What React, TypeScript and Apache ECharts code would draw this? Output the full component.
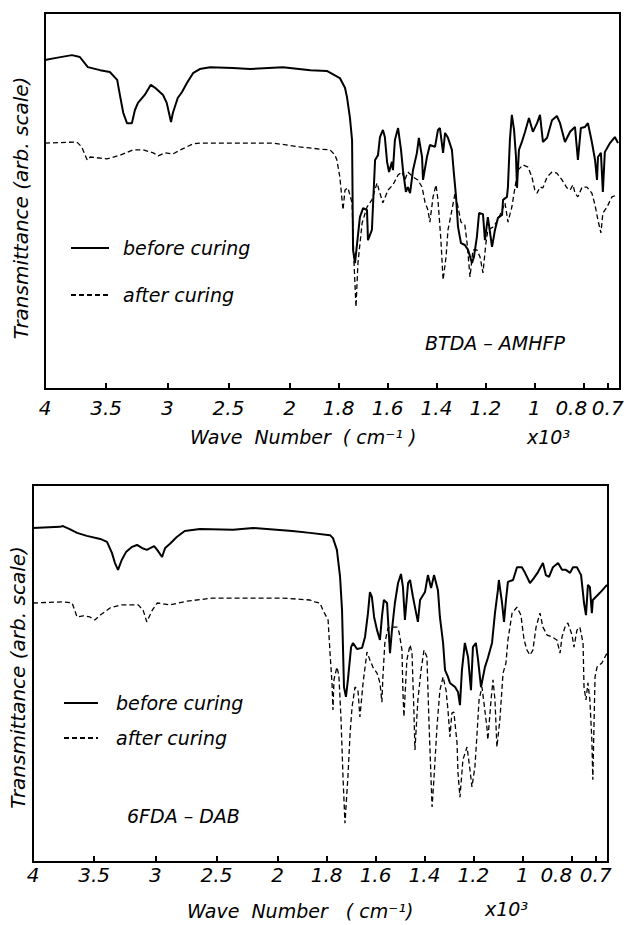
import React, { useEffect, useRef } from "react";
import * as echarts from "echarts";

// ---- Data: [wave number (cm^-1), transmittance (arb. units, 0-100)] ----
const TOP_BEFORE: [number, number][] = [
  [4000, 87.5], [3920, 88.0], [3780, 88.8], [3715, 88.3], [3650, 85.6], [3550, 84.8], [3470, 84.3],
  [3410, 82.2], [3385, 77.7], [3360, 73.4], [3330, 70.7], [3290, 70.7], [3265, 74.2], [3240, 76.1],
  [3185, 78.2], [3135, 80.9], [3100, 80.1], [3035, 78.2], [3005, 76.1], [2970, 71.0], [2955, 73.4],
  [2915, 77.4], [2880, 79.0], [2840, 81.4], [2790, 84.0], [2735, 85.1], [2650, 85.6], [2465, 85.4],
  [2325, 85.1], [2055, 85.6], [1915, 84.8], [1848, 84.6], [1795, 82.7], [1774, 80.1], [1766, 77.7],
  [1754, 72.3], [1745, 66.2], [1741, 37.0], [1733, 33.5], [1713, 45.7], [1700, 48.1], [1684, 47.6],
  [1680, 39.6], [1664, 42.3], [1651, 60.9], [1639, 62.2], [1631, 67.0], [1619, 68.9], [1611, 67.0],
  [1602, 60.4], [1594, 57.7], [1582, 60.4], [1578, 58.2], [1570, 66.2], [1557, 69.4], [1545, 63.6],
  [1537, 58.2], [1525, 52.4], [1517, 53.7], [1508, 52.1], [1496, 58.2], [1480, 62.8], [1472, 66.8],
  [1459, 61.7], [1455, 55.6], [1439, 61.7], [1427, 64.9], [1406, 64.4], [1394, 68.9], [1386, 69.4],
  [1373, 62.8], [1365, 68.1], [1353, 66.8], [1337, 63.6], [1329, 57.4], [1320, 51.1], [1312, 43.1],
  [1300, 38.8], [1284, 38.3], [1271, 37.0], [1255, 33.5], [1247, 35.1], [1235, 40.4], [1226, 46.8],
  [1210, 46.5], [1202, 39.6], [1190, 45.7], [1173, 37.8], [1161, 42.3], [1149, 45.5], [1132, 46.3],
  [1128, 50.3], [1112, 51.1], [1108, 53.7], [1100, 66.2], [1092, 72.9], [1083, 68.9], [1075, 61.7],
  [1071, 53.5], [1063, 63.6], [1051, 65.7], [1038, 68.4], [1022, 72.1], [1006, 68.4], [989, 70.7],
  [977, 72.9], [965, 65.7], [948, 66.8], [928, 71.5], [908, 72.6], [895, 70.7], [875, 65.7],
  [854, 68.4], [834, 69.7], [822, 60.9], [810, 69.4], [793, 69.7], [781, 70.7], [765, 65.7],
  [752, 60.9], [744, 55.6], [740, 61.7], [728, 62.8], [720, 52.4], [712, 63.0], [691, 65.4],
  [671, 67.0], [658, 65.4],
];

const TOP_AFTER: [number, number][] = [
  [4000, 65.4], [3740, 65.7], [3700, 64.4], [3655, 60.9], [3630, 61.7], [3495, 61.2], [3385, 62.2],
  [3280, 63.6], [3200, 63.6], [3115, 62.8], [3075, 62.0], [3020, 62.8], [2955, 62.5], [2880, 63.8],
  [2790, 65.2], [2735, 65.4], [2465, 65.4], [2135, 65.4], [1960, 64.4], [1875, 63.8], [1835, 63.6],
  [1815, 62.2], [1807, 60.9], [1795, 56.4], [1782, 47.6], [1774, 52.9], [1762, 53.5], [1745, 49.5],
  [1737, 33.5], [1729, 21.8], [1721, 33.5], [1704, 44.1], [1684, 48.4], [1664, 50.3], [1643, 54.8],
  [1635, 52.9], [1619, 49.5], [1598, 52.9], [1578, 54.3], [1557, 56.9], [1541, 57.7], [1529, 55.6],
  [1517, 57.7], [1496, 56.4], [1476, 55.6], [1459, 53.7], [1447, 49.7], [1435, 47.6], [1427, 44.4],
  [1414, 51.1], [1402, 54.3], [1394, 50.3], [1382, 39.6], [1373, 29.0], [1361, 35.1], [1353, 42.3],
  [1337, 47.6], [1324, 52.1], [1312, 48.4], [1300, 44.4], [1284, 43.6], [1275, 38.8], [1263, 29.8],
  [1251, 37.0], [1235, 37.0], [1222, 35.1], [1210, 30.9], [1198, 38.8], [1190, 42.3], [1169, 43.1],
  [1149, 44.9], [1132, 47.6], [1120, 49.5], [1108, 44.4], [1092, 48.4], [1079, 53.7], [1067, 58.2],
  [1047, 59.6], [1026, 59.0], [1010, 56.4], [998, 52.9], [989, 52.1], [977, 53.7], [965, 53.5],
  [948, 56.4], [928, 57.7], [908, 57.4], [887, 55.6], [867, 53.5], [854, 52.9], [842, 54.3],
  [834, 52.1], [822, 51.1], [805, 53.7], [785, 53.7], [765, 52.1], [752, 48.9], [740, 44.9],
  [728, 41.5], [720, 46.8], [703, 48.4], [683, 51.1], [662, 51.6],
];

const BOTTOM_BEFORE: [number, number][] = [
  [4000, 88.6], [3780, 88.9], [3755, 89.1], [3700, 88.3], [3640, 87.3], [3560, 86.5], [3450, 85.7],
  [3395, 84.9], [3355, 82.0], [3330, 79.3], [3305, 77.5], [3275, 80.1], [3240, 82.2], [3190, 83.6],
  [3150, 84.1], [3110, 83.3], [3070, 82.8], [3010, 83.8], [2985, 82.8], [2945, 80.9], [2920, 83.3],
  [2880, 84.4], [2825, 86.2], [2760, 87.8], [2635, 88.3], [2365, 88.1], [2200, 88.6], [1940, 87.8],
  [1868, 87.3], [1786, 86.7], [1774, 85.9], [1758, 82.8], [1745, 75.6], [1737, 66.8], [1729, 46.4],
  [1721, 43.8], [1713, 48.3], [1700, 57.0], [1692, 58.1], [1676, 56.5], [1655, 56.8], [1643, 59.7],
  [1631, 66.0], [1623, 71.6], [1615, 70.3], [1606, 65.0], [1594, 61.5], [1582, 58.9], [1574, 65.0],
  [1566, 69.5], [1553, 68.7], [1549, 64.2], [1541, 55.4], [1533, 61.5], [1521, 68.7], [1508, 74.0],
  [1496, 76.4], [1488, 72.9], [1480, 64.2], [1467, 74.0], [1459, 74.8], [1447, 70.3], [1439, 67.6],
  [1427, 63.7], [1418, 69.5], [1398, 71.6], [1386, 76.1], [1373, 72.7], [1361, 76.1], [1345, 72.1],
  [1337, 65.0], [1324, 58.1], [1316, 50.9], [1304, 49.1], [1296, 47.5], [1275, 46.4], [1263, 45.1],
  [1255, 41.6], [1247, 50.9], [1235, 58.1], [1222, 54.4], [1210, 45.6], [1202, 57.0], [1190, 58.1],
  [1181, 53.6], [1169, 46.4], [1153, 51.7], [1141, 54.1], [1124, 58.1], [1112, 66.0], [1100, 72.1],
  [1096, 74.8], [1083, 68.7], [1075, 63.7], [1067, 69.5], [1059, 74.3], [1038, 74.8], [1022, 78.2],
  [1002, 78.2], [989, 76.7], [969, 74.0], [953, 75.3], [936, 76.9], [916, 79.3], [904, 76.1],
  [891, 75.6], [875, 78.2], [854, 79.3], [838, 77.5], [822, 77.5], [805, 76.7], [793, 78.2],
  [777, 78.2], [760, 76.1], [748, 68.7], [740, 65.5], [732, 73.5], [724, 72.9], [716, 66.0],
  [712, 69.5], [683, 71.4], [654, 73.5],
];

const BOTTOM_AFTER: [number, number][] = [
  [4000, 68.7], [3755, 69.0], [3680, 68.7], [3640, 65.0], [3590, 65.3], [3535, 65.0], [3495, 64.2],
  [3450, 65.5], [3370, 67.4], [3275, 68.2], [3140, 68.2], [3100, 66.8], [3070, 63.7], [3025, 66.8],
  [2985, 68.7], [2880, 68.2], [2740, 69.2], [2530, 70.0], [2250, 70.0], [1980, 70.0], [1868, 69.5],
  [1848, 69.0], [1827, 68.7], [1815, 66.8], [1794, 64.2], [1786, 55.4], [1778, 47.5], [1774, 40.3],
  [1770, 48.3], [1758, 51.7], [1750, 49.6], [1741, 37.7], [1733, 22.5], [1725, 10.3], [1713, 22.5],
  [1704, 34.2], [1696, 41.1], [1684, 46.4], [1672, 45.6], [1664, 38.5], [1651, 47.5], [1635, 55.7],
  [1623, 53.6], [1611, 51.7], [1594, 50.1], [1582, 47.5], [1574, 42.4], [1570, 49.1], [1562, 58.1],
  [1549, 62.1], [1533, 62.3], [1512, 62.3], [1504, 61.0], [1492, 56.2], [1488, 44.8], [1484, 38.5],
  [1472, 53.6], [1459, 57.6], [1451, 55.4], [1443, 39.5], [1439, 29.7], [1427, 43.0], [1414, 50.9],
  [1402, 56.2], [1390, 54.4], [1382, 37.7], [1369, 14.6], [1361, 22.5], [1349, 35.8], [1337, 45.6],
  [1324, 49.1], [1312, 45.6], [1304, 40.3], [1296, 33.2], [1288, 39.5], [1280, 39.8], [1267, 31.6],
  [1263, 23.6], [1255, 17.2], [1243, 27.1], [1226, 30.5], [1214, 24.4], [1206, 19.9], [1194, 25.2],
  [1185, 34.2], [1177, 43.0], [1165, 46.4], [1157, 42.2], [1145, 35.8], [1141, 32.4], [1128, 43.0],
  [1120, 48.3], [1112, 43.0], [1104, 30.5], [1092, 37.7], [1079, 50.1], [1067, 52.8], [1059, 58.9],
  [1042, 66.0], [1022, 67.6], [1006, 65.5], [993, 58.9], [981, 56.2], [969, 54.9], [957, 56.2],
  [944, 62.3], [928, 66.0], [916, 62.3], [899, 60.2], [879, 59.7], [859, 58.9], [846, 55.4],
  [838, 59.7], [826, 62.3], [814, 63.4], [797, 60.2], [789, 57.0], [777, 61.5], [765, 62.3],
  [752, 58.1], [748, 46.4], [740, 43.0], [732, 47.5], [724, 43.0], [716, 32.4], [712, 21.8],
  [703, 49.1], [695, 51.7], [675, 52.8], [654, 55.4],
];

// Tick positions (cm^-1) and their labels (x10^3)
const TICK_WN = [4000, 3500, 3000, 2500, 2000, 1800, 1600, 1400, 1200, 1000, 800, 700];
const TICK_LABELS = ["4", "3.5", "3", "2.5", "2", "1.8", "1.6", "1.4", "1.2", "1", "0.8", "0.7"];
const LEGEND_NAMES = ["before curing", "after curing"];
const PANEL_LABELS = ["BTDA – AMHFP", "6FDA – DAB"];
const Y_TITLE = "Transmittance (arb. scale)";

// ---- Scale: IR convention, 4000-2000 drawn at half the scale of 2000-600 ----
const toU = (w: number) => (w >= 2000 ? (4000 - w) / 2 : 1000 + (2000 - w));
const U_MAX = toU(650);
const TICK_U = TICK_WN.map(toU);

const FONT = '"DejaVu Sans", "Liberation Sans", Arial, sans-serif';
const TXT = { color: "#000", fontFamily: FONT, fontStyle: "italic" as const };
const TICK_FS = 20;

function makeFormatter(shifts: Record<string, number>) {
  return (v: number) => {
    const i = TICK_U.findIndex((u) => Math.abs(u - v) < 1e-6);
    if (i < 0) return "";
    const lab = TICK_LABELS[i];
    if (shifts[lab]) return `{s${Math.round(shifts[lab])}|${lab}}`;
    return lab;
  };
}
function makeRich(shifts: Record<string, number>) {
  const rich: Record<string, any> = {};
  Object.values(shifts).forEach((s) => {
    rich["s" + Math.round(s)] = {
      ...TXT,
      fontSize: TICK_FS,
      padding: [0, Math.abs(s) * 2, 0, 0],
    };
  });
  return rich;
}

const SHIFTS = [{ "0.8": 12 }, { "0.8": 15 }];

const toSeries = (d: [number, number][]) => d.map(([w, t]) => [toU(w), t]);

function buildOption() {
  const grids = [
    { left: 45, top: 13, width: 575, height: 376 },
    { left: 33, top: 485, width: 575, height: 377 },
  ];
  const panels = [
    { before: TOP_BEFORE, after: TOP_AFTER },
    { before: BOTTOM_BEFORE, after: BOTTOM_AFTER },
  ];
  return {
    animation: false,
    backgroundColor: "#fff",
    grid: grids.map((g) => ({ ...g, show: true, borderColor: "#000", borderWidth: 2, backgroundColor: "transparent" })),
    xAxis: [0, 1].map((i) => ({
      type: "value",
      gridIndex: i,
      min: 0,
      max: U_MAX,
      axisLine: { show: true, onZero: false, lineStyle: { color: "#000", width: 2 } },
      axisTick: {
        show: true,
        inside: true,
        length: 6,
        customValues: TICK_U,
        lineStyle: { color: "#000", width: 2 },
      },
      axisLabel: {
        show: true,
        customValues: TICK_U,
        formatter: makeFormatter(SHIFTS[i]),
        rich: makeRich(SHIFTS[i]),
        ...TXT,
        fontSize: TICK_FS,
        margin: i === 0 ? 9 : 3,
        hideOverlap: false,
      },
      splitLine: { show: false },
    })),
    yAxis: [0, 1].map((i) => ({
      type: "value",
      gridIndex: i,
      min: 0,
      max: 100,
      axisLine: { show: true, onZero: false, lineStyle: { color: "#000", width: 2 } },
      axisTick: { show: false },
      axisLabel: { show: false },
      splitLine: { show: false },
      name: Y_TITLE,
      nameLocation: "middle",
      nameRotate: 90,
      nameGap: i === 0 ? 14 : 5,
      nameTextStyle: { ...TXT, fontSize: 20, padding: [0, i === 0 ? 14 : 8, 0, 0] },
    })),
    legend: [
      { left: 70, top: 238, itemGap: 27, itemWidth: 38, pad: 9 },
      { left: 63, top: 693, itemGap: 15, itemWidth: 34, pad: 13 },
    ].map((l) => ({
      left: l.left,
      top: l.top,
      orient: "vertical",
      padding: 0,
      itemGap: l.itemGap,
      itemWidth: l.itemWidth,
      itemHeight: 14,
      selectedMode: false,
      data: LEGEND_NAMES,
      itemStyle: { opacity: 0 },
      textStyle: { ...TXT, fontSize: 19, lineHeight: 20, padding: [0, 0, 0, l.pad] },
    })),
    series: panels.flatMap((p, i) => [
      {
        name: LEGEND_NAMES[0],
        type: "line",
        xAxisIndex: i,
        yAxisIndex: i,
        data: toSeries(p.before),
        symbol: "none",
        lineStyle: { color: "#000", width: 2 },
        itemStyle: { color: "#000" },
        z: 3,
      },
      {
        name: LEGEND_NAMES[1],
        type: "line",
        xAxisIndex: i,
        yAxisIndex: i,
        data: toSeries(p.after),
        symbol: "none",
        lineStyle: { color: "#000", width: 1.3, type: [5, 3] },
        itemStyle: { color: "#000" },
        z: 2,
      },
    ]),
    graphic: [
      { x: 425, y: 343, text: PANEL_LABELS[0] },
      { x: 127, y: 816, text: PANEL_LABELS[1] },
      { x: 190, y: 437, text: "Wave\u00a0\u00a0Number\u00a0\u00a0(\u00a0cm\u207b\u00b9\u00a0)" },
      { x: 527, y: 437, text: "x10\u00b3" },
      { x: 187, y: 911, text: "Wave\u00a0\u00a0Number\u00a0\u00a0\u00a0(\u00a0cm\u207b\u00b9)" },
      { x: 485, y: 909, text: "x10\u00b3" },
    ].map((t) => ({
      type: "text",
      x: t.x,
      y: t.y,
      style: {
        text: t.text,
        fill: "#000",
        font: `italic 19px ${FONT}`,
        textAlign: "left",
        textVerticalAlign: "middle",
        align: "left",
        verticalAlign: "middle",
      },
    })),
  };
}

export default function App() {
  const ref = useRef<HTMLDivElement>(null);
  useEffect(() => {
    if (!ref.current) return;
    const chart = echarts.init(ref.current, null, { renderer: "svg" });
    chart.setOption(buildOption() as any);
    return () => chart.dispose();
  }, []);
  return (
    <div
      ref={ref}
      style={{ position: "absolute", left: 0, top: 0, width: 631, height: 925, background: "#fff" }}
    />
  );
}
